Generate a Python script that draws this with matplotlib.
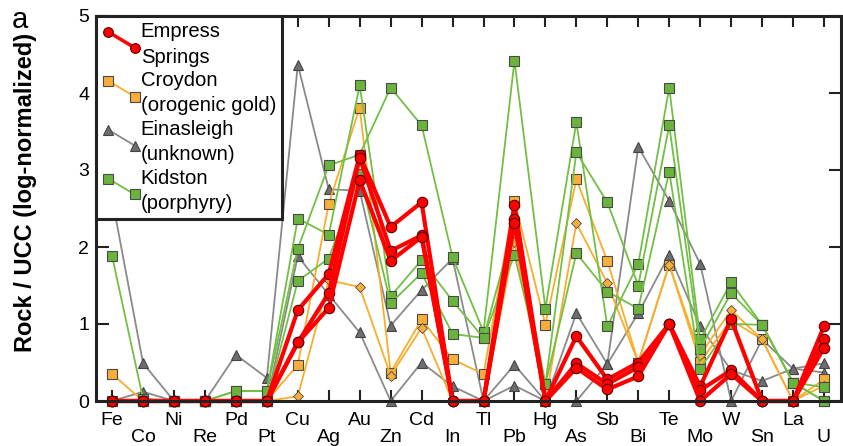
import numpy as np
import matplotlib
matplotlib.use('Agg')
import matplotlib.pyplot as plt
from matplotlib.lines import Line2D
from matplotlib.legend_handler import HandlerLine2D

plt.rcParams['font.family'] = ['Liberation Sans', 'DejaVu Sans']

elements = ['Fe', 'Co', 'Ni', 'Re', 'Pd', 'Pt', 'Cu', 'Ag', 'Au', 'Zn', 'Cd', 'In',
            'Tl', 'Pb', 'Hg', 'As', 'Sb', 'Bi', 'Te', 'Mo', 'W', 'Sn', 'La', 'U']

# Empress Springs (red circles)
empress_1 = [0, 0, 0, 0, 0, 0, 1.18, 1.65, 3.19, 2.26, 2.58, 0, 0, 2.55, 0, 0.84, 0.28, 0.50, 1.00, 0.19, 1.06, 0, 0, 0.97]
empress_2 = [0, 0, 0, 0, 0, 0, 0.76, 1.40, 3.16, 1.95, 2.15, 0, 0, 2.36, 0, 0.49, 0.22, 0.44, 1.00, 0.14, 0.40, 0, 0, 0.81]
empress_3 = [0, 0, 0, 0, 0, 0, 0.76, 1.21, 2.87, 1.82, 2.13, 0, 0, 2.31, 0, 0.43, 0.15, 0.32, 1.00, 0.00, 0.35, 0, 0, 0.69]

# Croydon (orogenic gold): squares and diamonds
croydon_sq = [0.35, 0, 0, 0, 0, 0, 0.47, 2.56, 3.81, 0.37, 1.06, 0.54, 0.35, 2.60, 0.99, 2.88, 1.82, 0.50, 1.77, 0.51, 1.05, 0.80, 0, 0.28]
croydon_di = [0, 0, 0, 0, 0, 0, 0.06, 1.57, 1.48, 0.33, 0.95, 0, 0, 2.06, 0, 2.31, 1.53, 0.50, 1.77, 0.60, 1.18, 0.80, 0, 0.20]

# Einasleigh (unknown)
einas_1 = [2.63, 0.49, 0, 0, 0.60, 0.30, 4.37, 2.75, 2.73, 0.98, 1.44, 1.85, 0, 0.47, 0, 1.14, 0.48, 3.30, 2.60, 1.78, 0, 0.80, 0.42, 0.49]
einas_2 = [0, 0.12, 0, 0, 0, 0, 1.88, 1.38, 0.89, 0, 0.50, 0.19, 0, 0.20, 0, 0, 0.48, 1.14, 1.90, 0.97, 0.40, 0.26, 0.42, 0.37]

# Kidston (porphyry)
kid_1 = [1.88, 0.03, 0, 0, 0.13, 0.13, 1.98, 3.06, 3.20, 4.07, 3.58, 1.87, 0.90, 4.42, 1.20, 3.62, 0.97, 1.78, 4.07, 0.80, 1.54, 0.99, 0.24, 0.18]
kid_2 = [0, 0, 0, 0, 0.13, 0.13, 2.37, 2.16, 4.10, 1.36, 1.83, 1.30, 0.82, 1.90, 0.22, 3.23, 2.58, 1.50, 3.58, 0.68, 1.40, 0.99, 0.24, 0]
kid_3 = [0, 0, 0, 0, 0, 0, 1.56, 1.85, 2.95, 1.27, 1.66, 0.87, 0.82, 2.30, 0.22, 1.92, 1.42, 1.20, 2.98, 0.42, 1.00, 0.99, 0.24, 0]

x = np.arange(len(elements))

fig = plt.figure(figsize=(8.43, 4.46), dpi=100)
ax = fig.add_axes([96 / 843, 45 / 446, 745 / 843, 385 / 446])

grey_kw = dict(color='#8a8a8a', lw=1.3, marker='^', ms=7, mfc='#6e6e6e', mec='#444444', mew=0.8, clip_on=False)
orange_kw = dict(color='#f8ad2c', lw=1.3, clip_on=False)
green_kw = dict(color='#72c043', lw=1.3, marker='s', ms=6.5, mfc='#6ab43d', mec='#4a4a4a', mew=0.8, clip_on=False)
red_kw = dict(color='#ff0000', lw=3.0, marker='o', ms=7.5, mfc='#ff0000', mec='#5a0000', mew=0.8, clip_on=False)

for s in [einas_1, einas_2]:
    ax.plot(x, s, **grey_kw)
ax.plot(x, croydon_sq, marker='s', ms=6.5, mfc='#f9ae3a', mec='#4a4a4a', mew=0.8, **orange_kw)
ax.plot(x, croydon_di, marker='D', ms=5, mfc='#f9ae3a', mec='#4a4a4a', mew=0.6, **orange_kw)
for s in [kid_1, kid_2, kid_3]:
    ax.plot(x, s, **green_kw)
for s in [empress_1, empress_2, empress_3]:
    ax.plot(x, s, **red_kw)

ax.set_xlim(-0.52, 23.55)
ax.set_ylim(0, 5)

# alternating element labels: even on first row, odd on second row
ax.set_xticks(x[::2])
ax.set_xticklabels(elements[::2])
ax.set_xticks(x[1::2], minor=True)
ax.set_xticklabels(elements[1::2], minor=True)
ax.tick_params(axis='x', which='both', direction='in', length=8, width=1.5,
               top=True, labelsize=14, color='#222222')
ax.tick_params(axis='x', which='major', pad=8)
ax.tick_params(axis='x', which='minor', pad=20.5)
ax.set_yticks([0, 1, 2, 3, 4, 5])
ax.tick_params(axis='y', direction='in', length=9, width=1.5, right=True,
               labelsize=14, pad=5, color='#222222')
for sp in ax.spines.values():
    sp.set_linewidth(2.2)
    sp.set_color('#222222')

ax.set_ylabel('Rock / UCC (log-normalized)', fontsize=17, fontweight='bold')
ax.yaxis.set_label_coords(-0.079, 0.5416)
fig.text(0.0142, 0.937, 'a', fontsize=21, va='baseline')


class DiagHandler(HandlerLine2D):
    def create_artists(self, legend, orig_handle, xdescent, ydescent, width, height, fontsize, trans):
        y_top = -ydescent + height - 1.5
        line = Line2D([-xdescent + 0.16 * width, -xdescent + 0.87 * width],
                      [y_top, y_top - 11.5])
        self.update_prop(line, orig_handle, legend)
        line.set_transform(trans)
        return [line]


handles = [
    Line2D([], [], color='#ff0000', lw=2.5, marker='o', ms=7, mfc='#ff0000', mec='#5a0000', mew=0.8),
    Line2D([], [], color='#f8ad2c', lw=1.3, marker='s', ms=6.5, mfc='#f9ae3a', mec='#4a4a4a', mew=0.8),
    Line2D([], [], color='#8a8a8a', lw=1.3, marker='^', ms=7, mfc='#6e6e6e', mec='#444444', mew=0.8),
    Line2D([], [], color='#72c043', lw=1.3, marker='s', ms=6.5, mfc='#6ab43d', mec='#4a4a4a', mew=0.8),
]
labels = ['Empress\nSprings', 'Croydon\n(orogenic gold)', 'Einasleigh\n(unknown)', 'Kidston\n(porphyry)']
leg = ax.legend(handles, labels, loc='upper left', bbox_to_anchor=(0, 1), borderaxespad=0,
                fontsize=14.6, frameon=True, fancybox=False, framealpha=1, edgecolor='#222222',
                handler_map={h: DiagHandler() for h in handles}, handlelength=1.85,
                handleheight=2.0, handletextpad=0.06, labelspacing=0.22, borderpad=0.3)
leg.get_frame().set_linewidth(2.2)
for t in leg.get_texts():
    t.set_linespacing(1.43)

fig.savefig('out.png', dpi=100)
